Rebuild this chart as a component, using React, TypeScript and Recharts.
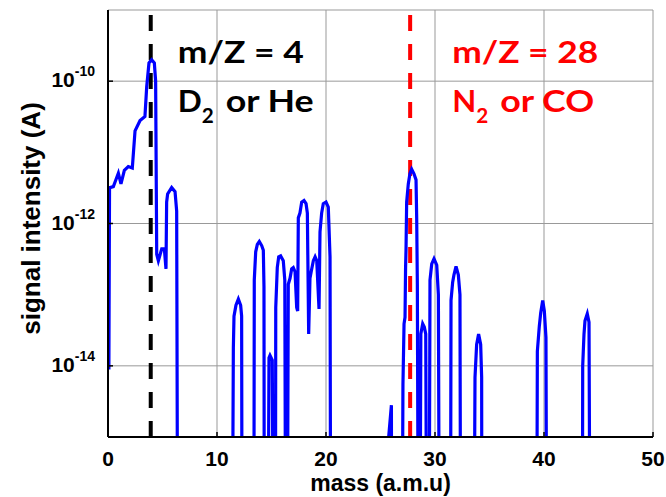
import { LineChart, Line, XAxis, YAxis, CartesianGrid, ReferenceLine } from 'recharts';

// mass axis (a.m.u) and signal (A); 1e-17 means the trace dropped below the plot
const massAmu = [
  0.08, 0.14, 0.18, 0.49, 0.64, 0.95, 1.19, 1.5, 1.86, 2.23, 2.48, 2.94, 3.39, 3.55, 3.76, 4.0, 4.25, 4.37, 4.47, 4.62, 4.93, 5.17, 5.32, 5.38, 5.47, 5.84, 6.15, 6.3, 6.39,
  11.4, 11.5, 11.56, 11.74, 11.96, 12.17, 12.26, 12.3,
  13.38, 13.42, 13.55, 13.7, 13.88, 14.1, 14.25, 14.31, 14.34,
  14.68, 14.77, 14.86, 15.07, 15.17,
  15.36, 15.39, 15.53, 15.66, 15.84, 16.08, 16.22, 16.3,
  16.45, 16.54, 16.7, 16.85, 17.0, 17.16, 17.31, 17.4, 17.46, 17.61, 17.77, 17.98, 18.17, 18.29, 18.41, 18.53, 18.69, 18.84, 19.0, 19.15, 19.36, 19.45, 19.6, 19.75, 20.0, 20.21, 20.37, 20.43,
  25.72, 25.75, 26.0, 26.03,
  26.98, 27.06, 27.16, 27.25, 27.3, 27.34, 27.4, 27.55, 27.7, 27.86, 28.07, 28.26, 28.32, 28.38, 28.47,
  28.62, 28.7, 28.87, 29.02, 29.15, 29.24,
  29.46, 29.54, 29.7, 29.91, 30.16, 30.31, 30.4,
  31.42, 31.47, 31.62, 31.74, 31.93, 32.14, 32.29, 32.35,
  33.58, 33.67, 33.82, 34.0, 34.19, 34.28, 34.3,
  39.33, 39.39, 39.57, 39.7, 39.88, 40.03, 40.18, 40.25,
  43.52, 43.55, 43.67, 43.76, 43.97, 44.13, 44.22,
  50,
];

const signalA = [
  8.9e-15, 3.2e-12, 3.2e-12, 3.3e-12, 3.8e-12, 5.1e-12, 3.6e-12, 5.6e-12, 6.3e-12, 6.0e-12, 2.0e-11, 2.8e-11, 3.2e-11, 8.3e-11, 1.8e-10, 2.0e-10, 1.8e-10, 1.0e-10, 3.7e-13, 3.0e-13, 4.4e-13, 4.4e-13, 2.3e-13, 2.0e-12, 2.6e-12, 3.2e-12, 2.8e-12, 1.5e-12, 1e-17,
  1e-17, 1.8e-14, 5.0e-14, 7.1e-14, 8.7e-14, 7.1e-14, 5.0e-14, 1e-17,
  1e-17, 1.6e-13, 4.0e-13, 5.1e-13, 5.6e-13, 4.9e-13, 4.2e-13, 1.3e-13, 1e-17,
  1e-17, 1.3e-14, 1.4e-14, 1.2e-14, 1e-17,
  1e-17, 6.6e-14, 2.4e-13, 3.4e-13, 3.5e-13, 3.0e-13, 1.6e-13, 1e-17,
  1e-17, 1.4e-13, 1.7e-13, 2.3e-13, 2.4e-13, 2.1e-13, 6.6e-14, 5.9e-14, 1.2e-12, 1.4e-12, 2.0e-12, 2.1e-12, 1.9e-12, 1.4e-12, 2.8e-14, 1.7e-13, 2.3e-13, 3.0e-13, 3.4e-13, 3.0e-13, 6.3e-14, 7.6e-13, 1.4e-12, 1.9e-12, 2.0e-12, 1.7e-12, 3.4e-13, 1e-17,
  1e-17, 1.0e-15, 2.8e-15, 1e-17,
  1e-17, 5.5e-15, 3.9e-14, 4.8e-14, 2.4e-13, 4.2e-13, 2.0e-12, 3.6e-12, 5.0e-12, 5.8e-12, 5.0e-12, 4.1e-12, 1.2e-12, 1.4e-13, 1e-17,
  1e-17, 2.8e-14, 3.9e-14, 3.5e-14, 2.8e-14, 1e-17,
  1e-17, 1.6e-13, 2.7e-13, 3.2e-13, 2.6e-13, 1.0e-13, 1e-17,
  1e-17, 8.3e-14, 1.5e-13, 1.9e-13, 2.5e-13, 1.9e-13, 1.0e-13, 1e-17,
  1e-17, 6.9e-15, 2.0e-14, 2.8e-14, 2.0e-14, 6.9e-15, 1e-17,
  1e-17, 1.6e-14, 3.6e-14, 5.6e-14, 8.3e-14, 5.9e-14, 2.5e-14, 1e-17,
  1e-17, 1.0e-14, 2.8e-14, 4.3e-14, 5.4e-14, 4.1e-14, 1e-17,
  1e-17,
];

const xTicks = [0, 10, 20, 30, 40, 50];
const yTicks = [1e-14, 1e-12, 1e-10];

const markerMass = [3.92, 27.72];
const markerColor = ['#000000', '#ff0000'];
const markerTitle = ['m/Z = 4', 'm/Z = 28'];
const markerGas = [['D', '2', 'or He'], ['N', '2', 'or CO']];

const data = massAmu.map((m, i) => ({ mass: m, signal: signalA[i] }));

const axisFont = '"Liberation Sans", Arial, sans-serif';
const noteFont = 'Lato, "Open Sans", sans-serif';

const XTick = ({ x, y, payload }: any) => (
  <g>
    <line x1={x} y1={y} x2={x} y2={y - 5} stroke="#000" strokeWidth={1.5} />
    <text x={x} y={y + 29} textAnchor="middle" fontSize={21} fontWeight="bold" fontFamily={axisFont} fill="#000">
      {payload.value}
    </text>
  </g>
);

const YTick = ({ x, y, payload }: any) => {
  const exp = Math.round(Math.log10(payload.value));
  return (
    <g>
      <line x1={x} y1={y} x2={x + 5} y2={y} stroke="#000" strokeWidth={1.5} />
      <text x={x - 13} y={y + 6} textAnchor="end" fontSize={21} fontWeight="bold" fontFamily={axisFont} fill="#000">
        <tspan>10</tspan>
        <tspan dy={-11} fontSize={14}>{exp}</tspan>
      </text>
    </g>
  );
};

const TopTick = ({ x, y }: any) => <line x1={x} y1={y} x2={x} y2={y + 5} stroke="#000" strokeWidth={1.5} />;
const RightTick = ({ x, y }: any) => <line x1={x} y1={y} x2={x - 5} y2={y} stroke="#000" strokeWidth={1.5} />;

const widths = [
  { title: 126, first: 24, sub: 12, rest: 88, dx: 27 },
  { title: 146, first: 24, sub: 12, rest: 94, dx: 42 },
];

const makeNote = (i: number) => (props: any) => {
  const vb = props.viewBox || { x: 0, y: 0 };
  const x0 = vb.x + widths[i].dx;
  const y0 = vb.y;
  const w = widths[i];
  const common = { fontSize: 31, fontWeight: 'bold', fontFamily: noteFont, fill: markerColor[i], lengthAdjust: 'spacingAndGlyphs' } as any;
  return (
    <g>
      <text x={x0} y={y0 + 53} textLength={w.title} {...common}>{markerTitle[i]}</text>
      <text x={x0} y={y0 + 102} textLength={w.first} {...common}>{markerGas[i][0]}</text>
      <text x={x0 + w.first} y={y0 + 113} textLength={w.sub} {...common} fontSize={20}>{markerGas[i][1]}</text>
      <text x={x0 + w.first + w.sub + 12} y={y0 + 102} textLength={w.rest} {...common}>{markerGas[i][2]}</text>
    </g>
  );
};

const XTitle = (props: any) => {
  const vb = props.viewBox;
  return (
    <text x={vb.x + vb.width / 2} y={vb.y + 54} textAnchor="middle" fontSize={23} fontWeight="bold" fontFamily={axisFont} fill="#000">
      mass (a.m.u)
    </text>
  );
};

const YTitle = (props: any) => {
  const vb = props.viewBox;
  const cx = vb.x + 31;
  const cy = vb.y + vb.height / 2 - 5;
  return (
    <text x={cx} y={cy} transform={`rotate(-90 ${cx} ${cy})`} textAnchor="middle" dominantBaseline="central" fontSize={26} fontWeight="bold" fontFamily={axisFont} fill="#000">
      signal intensity (A)
    </text>
  );
};

export default function App() {
  return (
    <div style={{ position: 'absolute', left: 0, top: 0, width: 666, height: 497, background: '#fff' }}>
      <LineChart width={666} height={497} data={data} margin={{ top: 10, right: 13, bottom: 0, left: 0 }}>
        <CartesianGrid stroke="#999" strokeWidth={1} />
        <XAxis
          dataKey="mass"
          type="number"
          domain={[0, 50]}
          ticks={xTicks}
          allowDataOverflow
          height={60}
          tickSize={0}
          tickMargin={0}
          tick={<XTick />}
          axisLine={{ stroke: '#000', strokeWidth: 2 }}
          tickLine={false}
          label={<XTitle />}
        />
        <XAxis
          xAxisId="top"
          orientation="top"
          type="number"
          domain={[0, 50]}
          ticks={xTicks}
          height={0}
          tickSize={0}
          tickMargin={0}
          tick={<TopTick />}
          axisLine={{ stroke: '#000', strokeWidth: 2 }}
          tickLine={false}
        />
        <YAxis
          dataKey="signal"
          scale="log"
          domain={[1e-15, 1e-9]}
          ticks={yTicks}
          allowDataOverflow
          width={108}
          tickSize={0}
          tickMargin={0}
          tick={<YTick />}
          axisLine={{ stroke: '#000', strokeWidth: 2 }}
          tickLine={false}
          label={<YTitle />}
        />
        <YAxis
          yAxisId="right"
          orientation="right"
          scale="log"
          domain={[1e-15, 1e-9]}
          ticks={yTicks}
          allowDataOverflow
          width={0}
          tickSize={0}
          tickMargin={0}
          tick={<RightTick />}
          axisLine={{ stroke: '#000', strokeWidth: 2 }}
          tickLine={false}
        />
        {markerMass.map((m, i) => (
          <ReferenceLine
            key={m}
            x={m}
            stroke={markerColor[i]}
            strokeWidth={4}
            strokeDasharray="16 13"
            label={makeNote(i)}
          />
        ))}
        <Line
          dataKey="signal"
          type="linear"
          stroke="#0000ff"
          strokeWidth={3.2}
          dot={false}
          isAnimationActive={false}
        />
      </LineChart>
    </div>
  );
}
